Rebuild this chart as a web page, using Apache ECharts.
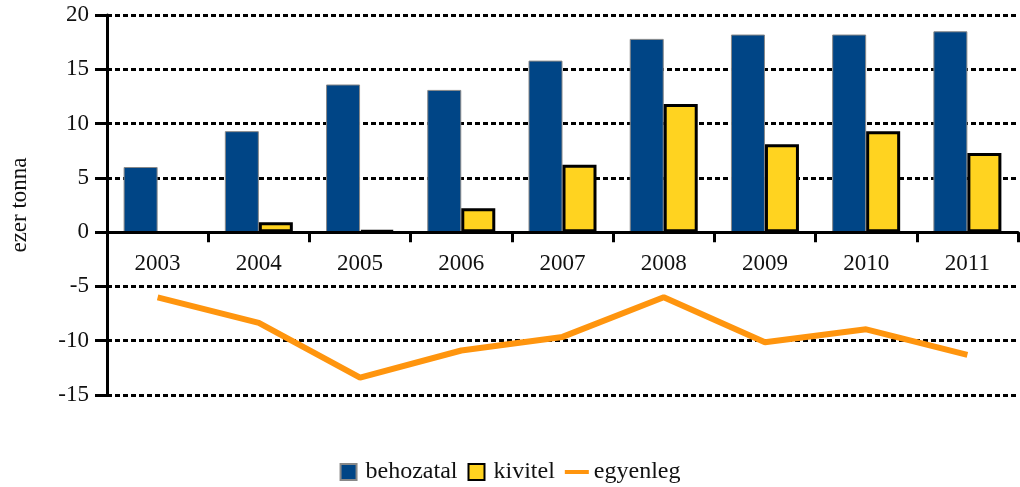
<!DOCTYPE html>
<html>
<head>
<meta charset="utf-8">
<script src="https://cdn.jsdelivr.net/npm/echarts@6/dist/echarts.min.js"></script>
<style>
  html, body { margin: 0; padding: 0; background: #fff; }
  #chart { width: 1020px; height: 487px; }
</style>
</head>
<body>
<div id="chart"></div>
<script>
const years = ['2003', '2004', '2005', '2006', '2007', '2008', '2009', '2010', '2011'];
const behozatal = [6.0, 9.3, 13.6, 13.1, 15.8, 17.8, 18.2, 18.2, 18.5];
const kivitel = [null, 0.9, 0.15, 2.2, 6.2, 11.8, 8.1, 9.3, 7.3];
const egyenleg = [-6.0, -8.35, -13.4, -10.9, -9.65, -6.0, -10.15, -8.95, -11.3];

const font = 'Liberation Serif';
const chart = echarts.init(document.getElementById('chart'));

// plot box: top 15, bottom 395; axis crosses y=0
const gridTop = 15, gridBottom = 92, yMin = -15, yMax = 20;
const plotH = 487 - gridTop - gridBottom;
const zeroOffset = -plotH * (0 - yMin) / (yMax - yMin);

const option = {
  backgroundColor: '#fff',
  textStyle: { fontFamily: font, color: '#111' },
  grid: { left: 105, right: 2, top: gridTop, bottom: gridBottom },
  legend: {
    left: 'center',
    top: 455,
    itemWidth: 24,
    itemHeight: 16,
    itemGap: 10,
    textStyle: { fontFamily: font, fontSize: 24, color: '#111' },
    data: [
      { name: 'behozatal', icon: 'path://M0,0H10V10H0Z' },
      { name: 'kivitel', icon: 'path://M0,0H10V10H0Z' },
      { name: 'egyenleg', icon: 'path://M0,0H24V4H0Z' }
    ]
  },
  xAxis: {
    type: 'category',
    data: years,
    z: 3,
    offset: zeroOffset,
    axisLine: { onZero: false, lineStyle: { color: '#000', width: 3 } },
    axisTick: { show: true, alignWithLabel: false, length: 10, lineStyle: { color: '#000', width: 3 } },
    axisLabel: { margin: 20, fontFamily: font, fontSize: 23, color: '#111' }
  },
  yAxis: {
    type: 'value',
    min: yMin,
    max: yMax,
    interval: 5,
    name: 'ezer tonna',
    nameLocation: 'middle',
    nameRotate: 90,
    nameGap: 76,
    nameTextStyle: { fontFamily: font, fontSize: 23, color: '#111' },
    axisLine: { show: true, lineStyle: { color: '#000', width: 3 } },
    axisTick: { show: true, length: 12, lineStyle: { color: '#000', width: 3 } },
    axisLabel: { margin: 18, fontFamily: font, fontSize: 23, color: '#111' },
    splitLine: { lineStyle: { color: '#000', width: 3, type: [5, 3] } }
  },
  series: [
    {
      name: 'behozatal',
      type: 'bar',
      data: behozatal,
      barWidth: 34,
      barGap: 0,
      itemStyle: { color: '#004586', borderColor: '#888', borderWidth: 1 }
    },
    {
      name: 'kivitel',
      type: 'bar',
      data: kivitel,
      barWidth: 34,
      barGap: 0,
      itemStyle: { color: '#ffd320', borderColor: '#000', borderWidth: 3 }
    },
    {
      name: 'egyenleg',
      type: 'line',
      data: egyenleg,
      symbol: 'none',
      z: 4,
      lineStyle: { color: '#ff950e', width: 6 },
      itemStyle: { color: '#ff950e' }
    }
  ]
};

option && chart.setOption(option);
</script>
</body>
</html>
